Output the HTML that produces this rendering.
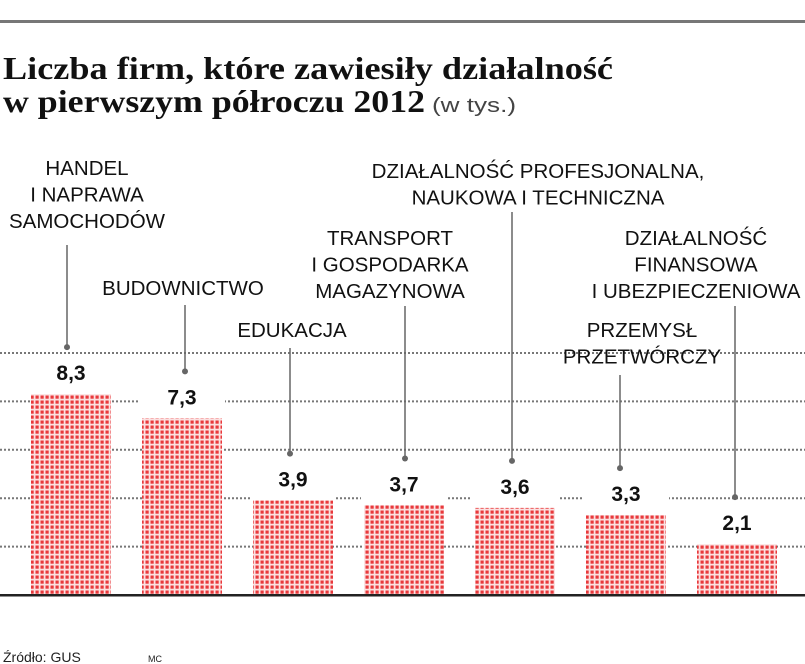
<!DOCTYPE html>
<html><head><meta charset="utf-8"><style>
html,body{margin:0;padding:0;background:#fff;width:805px;height:664px;overflow:hidden}
svg{display:block}
.lab{font-family:"Liberation Sans",sans-serif;font-size:20.5px;fill:#111;text-anchor:middle}
.val{font-family:"Liberation Sans",sans-serif;font-size:21px;font-weight:bold;fill:#111;text-anchor:middle}
</style></head><body>
<svg width="805" height="664">
<defs>
<pattern id="dots" width="5" height="5" patternUnits="userSpaceOnUse">
<rect width="5" height="5" fill="#fbe0e0"/>
<rect x="0.5" y="0.5" width="3.2" height="3.2" fill="#e8393c"/>
</pattern>
</defs>
<rect x="0" y="20" width="805" height="3" fill="#777"/>
<text x="3" y="79" font-family="Liberation Serif,serif" font-weight="bold" font-size="32" textLength="610" lengthAdjust="spacingAndGlyphs" fill="#111">Liczba firm, które zawiesiły działalność</text>
<text x="3" y="112" font-family="Liberation Serif,serif" font-weight="bold" font-size="32" textLength="422" lengthAdjust="spacingAndGlyphs" fill="#111">w pierwszym półroczu 2012</text>
<text x="432" y="112" font-family="Liberation Sans,sans-serif" font-size="20" textLength="84" lengthAdjust="spacingAndGlyphs" fill="#444">(w tys.)</text>
<g id="grid"></g>
<g id="bars"></g>
<rect x="0" y="594" width="805" height="2.5" fill="#222"/>
<g id="leaders"></g>
<g id="labels"></g>
<text x="3" y="662" font-family="Liberation Sans,sans-serif" font-size="14" fill="#222">Źródło: GUS</text>
<text x="148" y="662" font-family="Liberation Sans,sans-serif" font-size="9" fill="#222">MC</text>
</svg>
<script>
const categories=[["HANDEL","I NAPRAWA","SAMOCHODÓW"],["BUDOWNICTWO"],["EDUKACJA"],["TRANSPORT","I GOSPODARKA","MAGAZYNOWA"],["DZIAŁALNOŚĆ PROFESJONALNA,","NAUKOWA I TECHNICZNA"],["PRZEMYSŁ","PRZETWÓRCZY"],["DZIAŁALNOŚĆ","FINANSOWA","I UBEZPIECZENIOWA"]];
const values=[8.3,7.3,3.9,3.7,3.6,3.3,2.1];
const valueLabels=["8,3","7,3","3,9","3,7","3,6","3,3","2,1"];
const gridTicks=[2,4,6,8,10];
const NS="http://www.w3.org/2000/svg";
const y0=595,ppu=24.2,x0=31,step=111,bw=80;
const yS=v=>y0-v*ppu;
const xS=i=>x0+i*step;
const labCx=[87,183,292,390,538,642,696];
const labY=[175,295,337,245,178,337,245];
const leadX=[67,185,290,405,512,620,735];
const leadTop=[245,305,348,306,212,375,306];
function mk(t,a){const e=document.createElementNS(NS,t);for(const k in a)e.setAttribute(k,a[k]);return e;}
const grid=document.getElementById('grid');
gridTicks.forEach(t=>{
 const l=mk('line',{x1:0,x2:805,y1:yS(t),y2:yS(t),stroke:'#777','stroke-width':2,'stroke-dasharray':'2 2'});
 
 
 grid.appendChild(l);
});
const bars=document.getElementById('bars'),lead=document.getElementById('leaders'),labs=document.getElementById('labels');
values.forEach((v,i)=>{
 const top=yS(v);
 const bg=mk('rect',{x:xS(i)-3,y:top-30,width:bw+6,height:30,fill:'#fff'});
 bars.appendChild(bg);
 const r=mk('rect',{x:xS(i),y:top,width:bw,height:y0-top,fill:'url(#dots)'});
 
 
 bars.appendChild(r);
 const t=mk('text',{x:xS(i)+bw/2,y:top-14,class:'val'});
 t.textContent=valueLabels[i];
 
 
 bars.appendChild(t);
 const bot=top-47;
 const l=mk('line',{x1:leadX[i],x2:leadX[i],y1:leadTop[i],y2:bot,stroke:'#666','stroke-width':1.5});
 
 
 lead.appendChild(l);
 const c=mk('circle',{cx:leadX[i],cy:bot,r:3,fill:'#666'});
 
 
 lead.appendChild(c);
 categories[i].forEach((s,j)=>{
  const tt=mk('text',{x:labCx[i],y:labY[i]+j*26.5,class:'lab'});
  tt.textContent=s;
  
  
  labs.appendChild(tt);
 });
});
</script>
</body></html>
